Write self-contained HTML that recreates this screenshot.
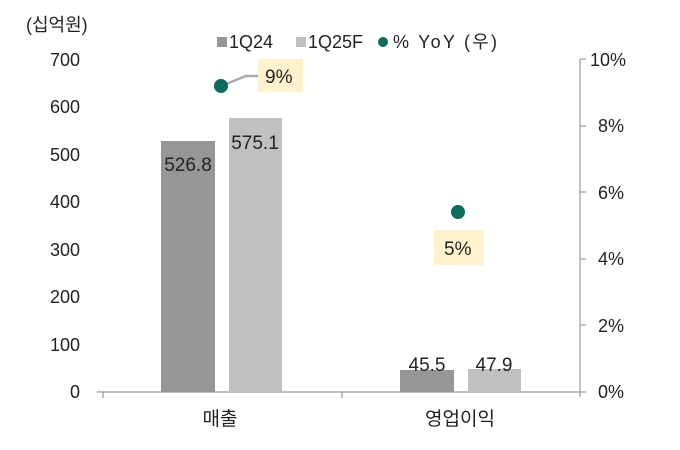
<!DOCTYPE html>
<html><head><meta charset="utf-8"><style>
html,body{margin:0;padding:0;background:#fff;}
svg text{font-family:"Liberation Sans","Noto Sans CJK KR",sans-serif;fill:#222;}
</style></head><body>
<svg width="680" height="445" viewBox="0 0 680 445" xmlns="http://www.w3.org/2000/svg">
<text x="26" y="31" font-size="18">(십억원)</text>
<g font-size="18" text-anchor="end">
<text x="80" y="66">700</text><text x="80" y="113">600</text><text x="80" y="161">500</text>
<text x="80" y="208">400</text><text x="80" y="256">300</text><text x="80" y="303">200</text>
<text x="80" y="351">100</text><text x="80" y="398">0</text>
</g>
<g font-size="18">
<text x="590" y="66">10%</text><text x="598" y="132">8%</text><text x="598" y="199">6%</text>
<text x="598" y="265">4%</text><text x="598" y="332">2%</text><text x="598" y="398">0%</text>
</g>
<g stroke="#999" stroke-width="1.2">
<line x1="97" y1="392" x2="580" y2="392"/>
<line x1="580" y1="59" x2="580" y2="397"/>
<line x1="103" y1="392" x2="103" y2="398"/><line x1="342" y1="392" x2="342" y2="398"/>
<line x1="580" y1="59" x2="586" y2="59"/><line x1="580" y1="126" x2="586" y2="126"/>
<line x1="580" y1="192" x2="586" y2="192"/><line x1="580" y1="259" x2="586" y2="259"/>
<line x1="580" y1="325" x2="586" y2="325"/><line x1="580" y1="392" x2="586" y2="392"/>
</g>
<rect x="161" y="141" width="54" height="251" fill="#969696"/>
<rect x="229" y="118" width="53" height="274" fill="#c0c0c0"/>
<rect x="400" y="370" width="54" height="22" fill="#969696"/>
<rect x="468" y="369" width="53" height="23" fill="#c0c0c0"/>
<g font-size="19" text-anchor="middle">
<text x="188" y="171">526.8</text><text x="255" y="149">575.1</text>
<text x="427" y="371">45.5</text><text x="494" y="371">47.9</text>
<text x="220" y="425">매출</text><text x="460" y="425">영업이익</text>
</g>
<polyline points="221,86 246,76 260,76" fill="none" stroke="#aaa" stroke-width="2.5"/>
<circle cx="221" cy="86" r="7" fill="#0e6b5f"/>
<rect x="258" y="59" width="45" height="33" fill="#fff2cc"/>
<text x="265" y="83" font-size="19">9%</text>
<circle cx="458" cy="212" r="7" fill="#0e6b5f"/>
<rect x="434" y="230" width="50" height="35" fill="#fff2cc"/>
<text x="444" y="255" font-size="19">5%</text>
<rect x="217" y="37" width="10" height="10" fill="#969696"/>
<text x="229" y="48" font-size="18">1Q24</text>
<rect x="296" y="37" width="10" height="10" fill="#c0c0c0"/>
<text x="308" y="48" font-size="18">1Q25F</text>
<circle cx="383" cy="42" r="5" fill="#0e6b5f"/>
<text x="393" y="48" font-size="18" textLength="104">% YoY (우)</text>
</svg>
</body></html>
